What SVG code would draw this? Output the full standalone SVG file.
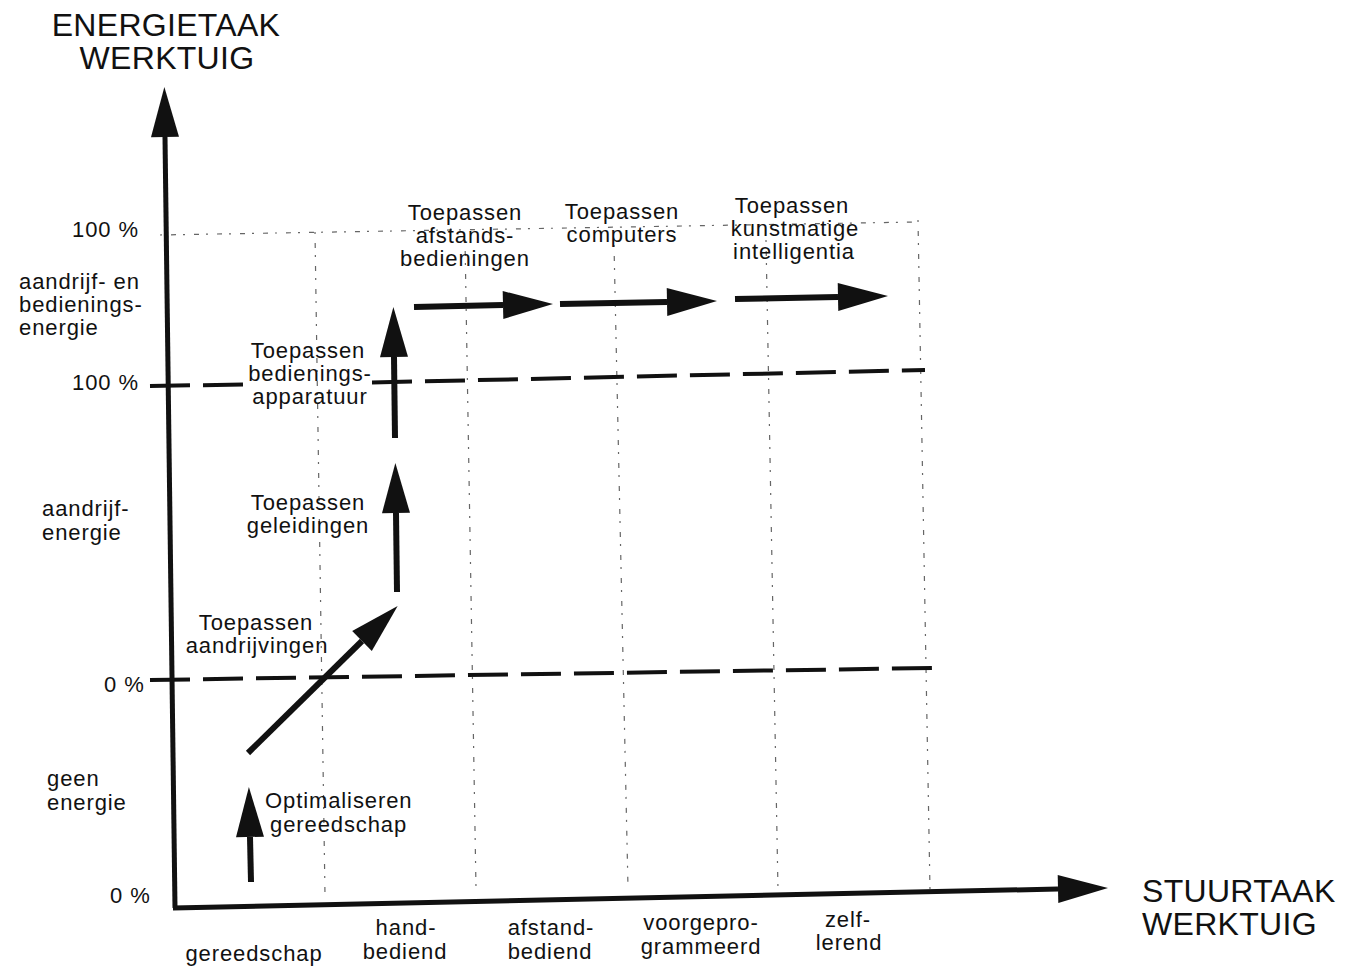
<svg xmlns="http://www.w3.org/2000/svg" width="1348" height="966" viewBox="0 0 1348 966">
  <style>
    text { font-family: "Liberation Sans", Arial, sans-serif; fill: #111; }
    .lbl { font-size: 22px; letter-spacing: 0.9px; }
    .mid { text-anchor: middle; }
    .big { font-size: 32px; letter-spacing: 0.3px; }
    .axis { stroke: #111; stroke-width: 5; fill: none; }
    .arr { stroke: #111; stroke-width: 6; fill: none; }
    .dash { stroke: #111; stroke-width: 4; stroke-dasharray: 40 13; fill: none; }
    .grid { stroke: #666; stroke-width: 1.2; stroke-dasharray: 2 9 5 7; fill: none; }
  </style>
  <defs>
    <marker id="head" markerUnits="userSpaceOnUse" markerWidth="52" markerHeight="30" refX="0" refY="14" orient="auto" overflow="visible">
      <path d="M0,0 L50,14 L0,28 Z" fill="#111"/>
    </marker>
  </defs>
  <rect width="1348" height="966" fill="#fff"/>

  <!-- faint guide lines -->
  <g id="grid">
    <path class="grid" d="M160,235 L915,222"/>
    <path class="grid" d="M315,232 L325,895"/>
    <path class="grid" d="M465,240 L476,888"/>
    <path class="grid" d="M614,245 L628,888"/>
    <path class="grid" d="M766,240 L778,890"/>
    <path class="grid" d="M918,220 L930,890"/>
  </g>

  <!-- level boundaries -->
  <g id="levels">
    <path class="dash" d="M150,386 L245,384.5"/>
    <path class="dash" d="M372,382.5 L925,370"/>
    <path class="dash" d="M150,680 L932,668"/>
  </g>

  <!-- axes -->
  <g id="axes">
    <path class="axis" d="M175,908 L165,137" marker-end="url(#head)"/>
    <path class="axis" d="M173,908 L1058,889" marker-end="url(#head)"/>
  </g>

  <!-- development steps -->
  <g id="connectors">
    <path class="arr" d="M251,882 L250,837" marker-end="url(#head)"/>
    <path class="arr" d="M248,753 L362,641" marker-end="url(#head)"/>
    <path class="arr" d="M397,592 L396,513" marker-end="url(#head)"/>
    <path class="arr" d="M395,438 L394,357" marker-end="url(#head)"/>
    <path class="arr" d="M414,307 L503,305" marker-end="url(#head)"/>
    <path class="arr" d="M560,304 L667,302" marker-end="url(#head)"/>
    <path class="arr" d="M735,299 L838,297" marker-end="url(#head)"/>
  </g>

  <g id="axis-titles">
    <text class="big mid" x="166" y="36">ENERGIETAAK</text>
    <text class="big mid" x="167" y="69">WERKTUIG</text>
    <text class="big" x="1142" y="902">STUURTAAK</text>
    <text class="big" x="1142" y="935">WERKTUIG</text>
  </g>

  <g id="y-labels">
    <text class="lbl" x="72" y="237">100 %</text>
    <text class="lbl" x="19" y="289">aandrijf- en</text>
    <text class="lbl" x="19" y="312">bedienings-</text>
    <text class="lbl" x="19" y="335">energie</text>
    <text class="lbl" x="72" y="390">100 %</text>
    <text class="lbl" x="42" y="516">aandrijf-</text>
    <text class="lbl" x="42" y="540">energie</text>
    <text class="lbl" x="104" y="692">0 %</text>
    <text class="lbl" x="47" y="786">geen</text>
    <text class="lbl" x="47" y="810">energie</text>
    <text class="lbl" x="110" y="903">0 %</text>
  </g>

  <g id="step-optimaliseren">
    <text class="lbl" x="265" y="808">Optimaliseren</text>
    <text class="lbl" x="270" y="832">gereedschap</text>
  </g>
  <g id="step-aandrijvingen">
    <text class="lbl mid" x="256" y="630">Toepassen</text>
    <text class="lbl mid" x="257" y="653">aandrijvingen</text>
  </g>
  <g id="step-geleidingen">
    <text class="lbl mid" x="308" y="510">Toepassen</text>
    <text class="lbl mid" x="308" y="533">geleidingen</text>
  </g>
  <g id="step-bedieningsapparatuur">
    <text class="lbl mid" x="308" y="358">Toepassen</text>
    <text class="lbl mid" x="310" y="381">bedienings-</text>
    <text class="lbl mid" x="310" y="404">apparatuur</text>
  </g>
  <g id="step-afstandsbedieningen">
    <text class="lbl mid" x="465" y="220">Toepassen</text>
    <text class="lbl mid" x="465" y="243">afstands-</text>
    <text class="lbl mid" x="465" y="266">bedieningen</text>
  </g>
  <g id="step-computers">
    <text class="lbl mid" x="622" y="219">Toepassen</text>
    <text class="lbl mid" x="622" y="242">computers</text>
  </g>
  <g id="step-ki">
    <text class="lbl mid" x="792" y="213">Toepassen</text>
    <text class="lbl mid" x="795" y="236">kunstmatige</text>
    <text class="lbl mid" x="794" y="259">intelligentia</text>
  </g>

  <g id="x-labels">
    <text class="lbl mid" x="254" y="961">gereedschap</text>
    <text class="lbl mid" x="406" y="935">hand-</text>
    <text class="lbl mid" x="405" y="959">bediend</text>
    <text class="lbl mid" x="551" y="935">afstand-</text>
    <text class="lbl mid" x="550" y="959">bediend</text>
    <text class="lbl mid" x="701" y="930">voorgepro-</text>
    <text class="lbl mid" x="701" y="954">grammeerd</text>
    <text class="lbl mid" x="848" y="927">zelf-</text>
    <text class="lbl mid" x="849" y="950">lerend</text>
  </g>
</svg>
